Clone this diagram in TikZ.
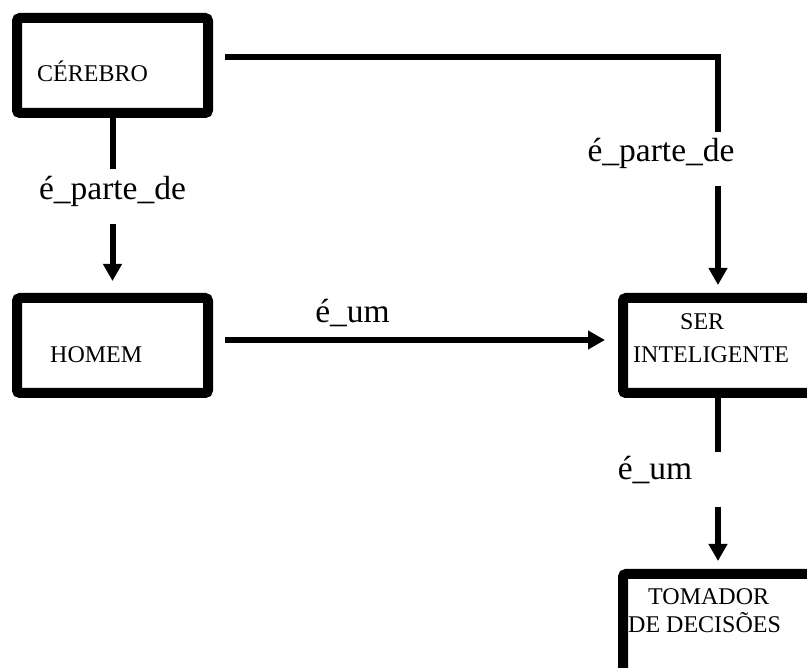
\documentclass[tikz,border=0pt]{standalone}
\usepackage{fontspec}
\setmainfont{Liberation Serif}
\usetikzlibrary{arrows.meta,calc}
\begin{document}
\begin{tikzpicture}[x=1pt,y=-1pt,
  box/.style={draw=black,line width=10pt,rounded corners=3pt,inner sep=0pt,fill=white},
  boxtxt/.style={anchor=base west,inner sep=0pt,font=\fontsize{24}{24}\selectfont},
  lbl/.style={anchor=base,inner sep=0pt,font=\fontsize{33.5}{33.5}\selectfont},
  link/.style={draw=black,line width=6pt,line join=miter},
  arr/.style={link,-{Triangle[width=18pt,length=17pt]}}]
\clip (0,0) rectangle (807,668);
\useasboundingbox (0,0) rectangle (807,668);
% boxes
\node[box,minimum width=191pt,minimum height=95pt] (cer) at (112.5,65.5) {};
\node[box,minimum width=191pt,minimum height=95pt] (hom) at (112.5,345.5) {};
\node[box,minimum width=207pt,minimum height=95pt] (ser) at (726.5,345.5) {};
\node[box,minimum width=207pt,minimum height=126pt] (tom) at (726.5,637) {};
% box texts
\node[boxtxt] (tcer) at (37,82) {CÉREBRO};
\node[boxtxt] (thom) at (50,363) {HOMEM};
\node[boxtxt] (tser1) at (680,330) {SER};
\node[boxtxt] (tser2) at (633,363) {INTELIGENTE};
\node[boxtxt] (ttom1) at (648,605) {TOMADOR};
\node[boxtxt] (ttom2) at (628,632) {DE DECISÕES};
% gap coordinates
\coordinate (g1a) at (112.5,169);
\coordinate (g1b) at (112.5,224);
\coordinate (g2a) at (718,132);
\coordinate (g2b) at (718,186);
\coordinate (g3a) at (718,452);
\coordinate (g3b) at (718,507);
% connectors
\draw[link] (cer.south) -- (g1a);
\draw[arr,shorten >=12pt] (g1b) -- (hom.north);
\draw[link,shorten <=12pt] ([yshift=8.5pt]cer.east) -| (g2a);
\draw[arr,shorten >=8pt] (g2b) -- (ser.north -| g2b);
\draw[arr,shorten <=12pt,shorten >=13pt] ([yshift=5.5pt]hom.east) -- ([yshift=5.5pt]hom.east -| ser.west);
\draw[link] (ser.south -| g3a) -- (g3a);
\draw[arr,shorten >=8pt] (g3b) -- (tom.north -| g3b);
% labels
\node[lbl] (l1) at (112.5,200) {é\_parte\_de};
\node[lbl] (l2) at (661,162) {é\_parte\_de};
\node[lbl] (l3) at (352.5,323) {é\_um};
\node[lbl] (l4) at (655,480) {é\_um};
\end{tikzpicture}
\end{document}
